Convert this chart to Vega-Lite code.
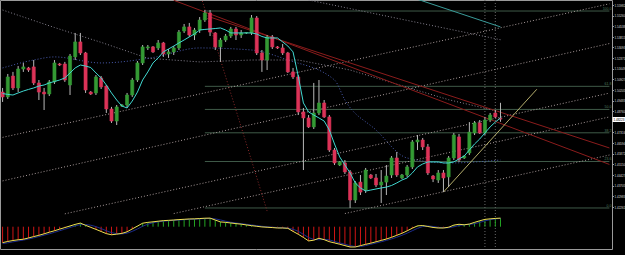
{
"$schema": "https://vega.github.io/schema/vega-lite/v6.json",
"usermeta": {"embedOptions": {"actions": false}},
"autosize": {"type": "none"},
"width": 612,
"height": 249,
"padding": {"left": 0, "top": 0, "right": 13, "bottom": 6},
"background": "#000000",
"config": {"view": {"stroke": "#9a9a9a", "strokeWidth": 1}, "font": "Liberation Sans"},
"datasets": {
"bars": [
{"d":"2010-03-01","o":1.5006,"h":1.5034,"l":1.4939,"c":1.4973,"ma":1.4996,"m":-0.0150,"s":-0.0160},
{"d":"2010-03-02","o":1.4973,"h":1.5129,"l":1.4959,"c":1.5109,"ma":1.4990,"m":-0.0139,"s":-0.0152},
{"d":"2010-03-03","o":1.5115,"h":1.5143,"l":1.5020,"c":1.5034,"ma":1.4986,"m":-0.0130,"s":-0.0143},
{"d":"2010-03-04","o":1.5034,"h":1.5183,"l":1.5006,"c":1.5163,"ma":1.5000,"m":-0.0123,"s":-0.0134},
{"d":"2010-03-05","o":1.5163,"h":1.5204,"l":1.5143,"c":1.5177,"ma":1.5013,"m":-0.0118,"s":-0.0126},
{"d":"2010-03-07","o":1.5170,"h":1.5177,"l":1.5143,"c":1.5156,"ma":1.5024,"m":-0.0106,"s":-0.0116},
{"d":"2010-03-08","o":1.5177,"h":1.5224,"l":1.5054,"c":1.5068,"ma":1.5034,"m":-0.0093,"s":-0.0105},
{"d":"2010-03-09","o":1.5068,"h":1.5088,"l":1.4952,"c":1.5006,"ma":1.5047,"m":-0.0081,"s":-0.0093},
{"d":"2010-03-10","o":1.5006,"h":1.5034,"l":1.4884,"c":1.4993,"ma":1.5054,"m":-0.0067,"s":-0.0080},
{"d":"2010-03-11","o":1.4993,"h":1.5088,"l":1.4979,"c":1.5075,"ma":1.5068,"m":-0.0052,"s":-0.0067},
{"d":"2010-03-12","o":1.5075,"h":1.5224,"l":1.5061,"c":1.5204,"ma":1.5078,"m":-0.0038,"s":-0.0053},
{"d":"2010-03-14","o":1.5197,"h":1.5204,"l":1.5183,"c":1.5190,"ma":1.5088,"m":-0.0023,"s":-0.0038},
{"d":"2010-03-15","o":1.5197,"h":1.5211,"l":1.5075,"c":1.5088,"ma":1.5102,"m":-0.0008,"s":-0.0023},
{"d":"2010-03-16","o":1.5054,"h":1.5265,"l":1.4986,"c":1.5251,"ma":1.5136,"m":0.0007,"s":-0.0008},
{"d":"2010-03-17","o":1.5245,"h":1.5408,"l":1.5224,"c":1.5347,"ma":1.5170,"m":0.0022,"s":0.0007},
{"d":"2010-03-18","o":1.5347,"h":1.5408,"l":1.5258,"c":1.5272,"ma":1.5190,"m":0.0034,"s":0.0020},
{"d":"2010-03-19","o":1.5272,"h":1.5279,"l":1.5000,"c":1.5020,"ma":1.5183,"m":0.0013,"s":0.0021},
{"d":"2010-03-21","o":1.5006,"h":1.5013,"l":1.4986,"c":1.4993,"ma":1.5173,"m":-0.0006,"s":0.0014},
{"d":"2010-03-22","o":1.5000,"h":1.5122,"l":1.4986,"c":1.5109,"ma":1.5136,"m":-0.0025,"s":0.0001},
{"d":"2010-03-23","o":1.5102,"h":1.5115,"l":1.5027,"c":1.5041,"ma":1.5102,"m":-0.0045,"s":-0.0018},
{"d":"2010-03-24","o":1.5047,"h":1.5054,"l":1.4864,"c":1.4891,"ma":1.5054,"m":-0.0065,"s":-0.0038},
{"d":"2010-03-25","o":1.4891,"h":1.4905,"l":1.4796,"c":1.4809,"ma":1.5000,"m":-0.0076,"s":-0.0056},
{"d":"2010-03-26","o":1.4809,"h":1.4918,"l":1.4782,"c":1.4905,"ma":1.4952,"m":-0.0070,"s":-0.0066},
{"d":"2010-03-28","o":1.4911,"h":1.4925,"l":1.4905,"c":1.4918,"ma":1.4911,"m":-0.0063,"s":-0.0068},
{"d":"2010-03-29","o":1.4918,"h":1.5000,"l":1.4898,"c":1.4986,"ma":1.4898,"m":-0.0048,"s":-0.0061},
{"d":"2010-03-30","o":1.4986,"h":1.5102,"l":1.4973,"c":1.5088,"ma":1.4945,"m":-0.0021,"s":-0.0044},
{"d":"2010-03-31","o":1.5088,"h":1.5217,"l":1.5075,"c":1.5204,"ma":1.5006,"m":0.0006,"s":-0.0021},
{"d":"2010-04-01","o":1.5204,"h":1.5326,"l":1.5190,"c":1.5313,"ma":1.5088,"m":0.0033,"s":0.0004},
{"d":"2010-04-02","o":1.5306,"h":1.5326,"l":1.5292,"c":1.5313,"ma":1.5143,"m":0.0041,"s":0.0024},
{"d":"2010-04-04","o":1.5313,"h":1.5319,"l":1.5272,"c":1.5279,"ma":1.5204,"m":0.0046,"s":0.0037},
{"d":"2010-04-05","o":1.5306,"h":1.5360,"l":1.5292,"c":1.5340,"ma":1.5238,"m":0.0052,"s":0.0046},
{"d":"2010-04-06","o":1.5340,"h":1.5347,"l":1.5245,"c":1.5265,"ma":1.5279,"m":0.0057,"s":0.0052},
{"d":"2010-04-07","o":1.5265,"h":1.5299,"l":1.5238,"c":1.5279,"ma":1.5299,"m":0.0060,"s":0.0056},
{"d":"2010-04-08","o":1.5279,"h":1.5319,"l":1.5258,"c":1.5306,"ma":1.5319,"m":0.0063,"s":0.0060},
{"d":"2010-04-09","o":1.5306,"h":1.5428,"l":1.5292,"c":1.5414,"ma":1.5340,"m":0.0067,"s":0.0063},
{"d":"2010-04-11","o":1.5421,"h":1.5469,"l":1.5408,"c":1.5449,"ma":1.5360,"m":0.0070,"s":0.0066},
{"d":"2010-04-12","o":1.5449,"h":1.5476,"l":1.5381,"c":1.5394,"ma":1.5381,"m":0.0073,"s":0.0069},
{"d":"2010-04-13","o":1.5394,"h":1.5442,"l":1.5360,"c":1.5428,"ma":1.5401,"m":0.0074,"s":0.0071},
{"d":"2010-04-14","o":1.5428,"h":1.5516,"l":1.5408,"c":1.5496,"ma":1.5428,"m":0.0077,"s":0.0074},
{"d":"2010-04-15","o":1.5496,"h":1.5564,"l":1.5483,"c":1.5544,"ma":1.5432,"m":0.0080,"s":0.0076},
{"d":"2010-04-16","o":1.5544,"h":1.5564,"l":1.5387,"c":1.5414,"ma":1.5435,"m":0.0081,"s":0.0078},
{"d":"2010-04-18","o":1.5408,"h":1.5414,"l":1.5292,"c":1.5313,"ma":1.5438,"m":0.0063,"s":0.0074},
{"d":"2010-04-19","o":1.5313,"h":1.5374,"l":1.5211,"c":1.5360,"ma":1.5442,"m":0.0045,"s":0.0064},
{"d":"2010-04-20","o":1.5360,"h":1.5401,"l":1.5347,"c":1.5387,"ma":1.5428,"m":0.0041,"s":0.0052},
{"d":"2010-04-21","o":1.5387,"h":1.5449,"l":1.5374,"c":1.5435,"ma":1.5408,"m":0.0035,"s":0.0042},
{"d":"2010-04-22","o":1.5435,"h":1.5449,"l":1.5360,"c":1.5394,"ma":1.5408,"m":0.0029,"s":0.0035},
{"d":"2010-04-23","o":1.5394,"h":1.5428,"l":1.5374,"c":1.5408,"ma":1.5408,"m":0.0024,"s":0.0029},
{"d":"2010-04-25","o":1.5408,"h":1.5414,"l":1.5401,"c":1.5411,"ma":1.5408,"m":0.0017,"s":0.0023},
{"d":"2010-04-26","o":1.5408,"h":1.5530,"l":1.5394,"c":1.5510,"ma":1.5408,"m":0.0010,"s":0.0017},
{"d":"2010-04-27","o":1.5510,"h":1.5523,"l":1.5258,"c":1.5272,"ma":1.5401,"m":0.0004,"s":0.0010},
{"d":"2010-04-28","o":1.5272,"h":1.5292,"l":1.5143,"c":1.5224,"ma":1.5384,"m":-0.0002,"s":0.0004},
{"d":"2010-04-29","o":1.5224,"h":1.5394,"l":1.5156,"c":1.5381,"ma":1.5374,"m":-0.0005,"s":-0.0001},
{"d":"2010-04-30","o":1.5381,"h":1.5394,"l":1.5299,"c":1.5313,"ma":1.5374,"m":-0.0008,"s":-0.0005},
{"d":"2010-05-02","o":1.5313,"h":1.5319,"l":1.5299,"c":1.5306,"ma":1.5374,"m":-0.0012,"s":-0.0008},
{"d":"2010-05-03","o":1.5306,"h":1.5333,"l":1.5258,"c":1.5272,"ma":1.5347,"m":-0.0012,"s":-0.0011},
{"d":"2010-05-04","o":1.5272,"h":1.5279,"l":1.5136,"c":1.5143,"ma":1.5319,"m":-0.0015,"s":-0.0013},
{"d":"2010-05-05","o":1.5143,"h":1.5170,"l":1.5095,"c":1.5109,"ma":1.5279,"m":-0.0044,"s":-0.0024},
{"d":"2010-05-06","o":1.5109,"h":1.5122,"l":1.4850,"c":1.4871,"ma":1.5115,"m":-0.0071,"s":-0.0043},
{"d":"2010-05-07","o":1.4871,"h":1.4898,"l":1.4476,"c":1.4830,"ma":1.4932,"m":-0.0101,"s":-0.0072},
{"d":"2010-05-09","o":1.4830,"h":1.4850,"l":1.4762,"c":1.4769,"ma":1.4871,"m":-0.0134,"s":-0.0102},
{"d":"2010-05-10","o":1.4769,"h":1.5068,"l":1.4755,"c":1.4864,"ma":1.4850,"m":-0.0127,"s":-0.0120},
{"d":"2010-05-11","o":1.4864,"h":1.5088,"l":1.4850,"c":1.4932,"ma":1.4830,"m":-0.0109,"s":-0.0123},
{"d":"2010-05-12","o":1.4932,"h":1.4952,"l":1.4830,"c":1.4837,"ma":1.4809,"m":-0.0122,"s":-0.0119},
{"d":"2010-05-13","o":1.4837,"h":1.4850,"l":1.4599,"c":1.4612,"ma":1.4748,"m":-0.0141,"s":-0.0124},
{"d":"2010-05-14","o":1.4612,"h":1.4626,"l":1.4510,"c":1.4524,"ma":1.4653,"m":-0.0153,"s":-0.0139},
{"d":"2010-05-16","o":1.4510,"h":1.4537,"l":1.4503,"c":1.4531,"ma":1.4565,"m":-0.0165,"s":-0.0153},
{"d":"2010-05-17","o":1.4524,"h":1.4544,"l":1.4449,"c":1.4463,"ma":1.4510,"m":-0.0178,"s":-0.0165},
{"d":"2010-05-18","o":1.4463,"h":1.4476,"l":1.4218,"c":1.4272,"ma":1.4456,"m":-0.0191,"s":-0.0178},
{"d":"2010-05-19","o":1.4272,"h":1.4401,"l":1.4252,"c":1.4388,"ma":1.4388,"m":-0.0191,"s":-0.0187},
{"d":"2010-05-20","o":1.4394,"h":1.4442,"l":1.4306,"c":1.4326,"ma":1.4354,"m":-0.0178,"s":-0.0187},
{"d":"2010-05-21","o":1.4340,"h":1.4490,"l":1.4320,"c":1.4476,"ma":1.4333,"m":-0.0166,"s":-0.0178},
{"d":"2010-05-23","o":1.4442,"h":1.4449,"l":1.4415,"c":1.4422,"ma":1.4340,"m":-0.0155,"s":-0.0166},
{"d":"2010-05-24","o":1.4422,"h":1.4449,"l":1.4360,"c":1.4374,"ma":1.4347,"m":-0.0142,"s":-0.0154},
{"d":"2010-05-25","o":1.4374,"h":1.4476,"l":1.4252,"c":1.4394,"ma":1.4354,"m":-0.0129,"s":-0.0142},
{"d":"2010-05-26","o":1.4394,"h":1.4510,"l":1.4306,"c":1.4435,"ma":1.4360,"m":-0.0116,"s":-0.0129},
{"d":"2010-05-27","o":1.4442,"h":1.4571,"l":1.4422,"c":1.4558,"ma":1.4371,"m":-0.0100,"s":-0.0115},
{"d":"2010-05-28","o":1.4558,"h":1.4599,"l":1.4429,"c":1.4442,"ma":1.4388,"m":-0.0081,"s":-0.0099},
{"d":"2010-05-30","o":1.4422,"h":1.4449,"l":1.4415,"c":1.4442,"ma":1.4408,"m":-0.0062,"s":-0.0081},
{"d":"2010-05-31","o":1.4442,"h":1.4510,"l":1.4429,"c":1.4497,"ma":1.4422,"m":-0.0039,"s":-0.0061},
{"d":"2010-06-01","o":1.4497,"h":1.4680,"l":1.4483,"c":1.4667,"ma":1.4456,"m":-0.0014,"s":-0.0038},
{"d":"2010-06-02","o":1.4667,"h":1.4714,"l":1.4612,"c":1.4680,"ma":1.4497,"m":0.0008,"s":-0.0015},
{"d":"2010-06-03","o":1.4680,"h":1.4694,"l":1.4612,"c":1.4633,"ma":1.4517,"m":0.0011,"s":0.0001},
{"d":"2010-06-04","o":1.4633,"h":1.4653,"l":1.4442,"c":1.4456,"ma":1.4531,"m":0.0002,"s":0.0007},
{"d":"2010-06-06","o":1.4435,"h":1.4442,"l":1.4394,"c":1.4415,"ma":1.4531,"m":-0.0007,"s":0.0002},
{"d":"2010-06-07","o":1.4408,"h":1.4476,"l":1.4388,"c":1.4456,"ma":1.4531,"m":-0.0012,"s":-0.0006},
{"d":"2010-06-08","o":1.4456,"h":1.4476,"l":1.4326,"c":1.4422,"ma":1.4524,"m":-0.0012,"s":-0.0010},
{"d":"2010-06-09","o":1.4429,"h":1.4571,"l":1.4360,"c":1.4558,"ma":1.4524,"m":-0.0005,"s":-0.0010},
{"d":"2010-06-10","o":1.4558,"h":1.4728,"l":1.4544,"c":1.4714,"ma":1.4531,"m":0.0015,"s":-0.0001},
{"d":"2010-06-11","o":1.4701,"h":1.4721,"l":1.4531,"c":1.4544,"ma":1.4551,"m":0.0023,"s":0.0011},
{"d":"2010-06-13","o":1.4558,"h":1.4578,"l":1.4551,"c":1.4571,"ma":1.4571,"m":0.0018,"s":0.0019},
{"d":"2010-06-14","o":1.4592,"h":1.4802,"l":1.4578,"c":1.4734,"ma":1.4612,"m":0.0025,"s":0.0022},
{"d":"2010-06-15","o":1.4728,"h":1.4809,"l":1.4714,"c":1.4796,"ma":1.4653,"m":0.0041,"s":0.0028},
{"d":"2010-06-16","o":1.4796,"h":1.4816,"l":1.4721,"c":1.4728,"ma":1.4687,"m":0.0056,"s":0.0041},
{"d":"2010-06-17","o":1.4728,"h":1.4837,"l":1.4714,"c":1.4816,"ma":1.4728,"m":0.0069,"s":0.0055},
{"d":"2010-06-18","o":1.4816,"h":1.4864,"l":1.4802,"c":1.4850,"ma":1.4769,"m":0.0074,"s":0.0066},
{"d":"2010-06-20","o":1.4864,"h":1.4884,"l":1.4830,"c":1.4837,"ma":1.4802,"m":0.0078,"s":0.0074},
{"d":"2010-06-21","o":1.4827,"h":1.4933,"l":1.4804,"c":1.48223,"ma":1.4830,"m":0.0081,"s":0.0078}
],
"fib": [
{"lv":1.5557,"t":"100.0"},{"lv":1.5045,"t":"61.8"},{"lv":1.4888,"t":"50.0"},{"lv":1.4729,"t":"38.2"},{"lv":1.4534,"t":"23.6"},{"lv":1.4218,"t":"0.0"}
],
"lines": [
{"g":"A","d":"2010-03-01","p":1.4698},{"g":"A","d":"2010-07-15","p":1.5606},
{"g":"B","d":"2010-03-01","p":1.4402},{"g":"B","d":"2010-07-15","p":1.5336},
{"g":"C","d":"2010-03-15","p":1.4178},{"g":"C","d":"2010-07-15","p":1.4999},
{"g":"D","d":"2010-04-08","p":1.4180},{"g":"D","d":"2010-07-15","p":1.4837},
{"g":"E","d":"2010-05-17","p":1.4180},{"g":"E","d":"2010-07-15","p":1.4578},
{"g":"G","d":"2010-05-09","p":1.5632},{"g":"G","d":"2010-06-21","p":1.5362},
{"g":"R1","d":"2010-04-08","p":1.5630},{"g":"R1","d":"2010-07-15","p":1.4514},
{"g":"R2","d":"2010-04-16","p":1.5516},{"g":"R2","d":"2010-07-15","p":1.4626},
{"g":"R3","d":"2010-04-14","p":1.5684},{"g":"R3","d":"2010-04-29","p":1.4197},
{"g":"T","d":"2010-06-02","p":1.5637},{"g":"T","d":"2010-06-21","p":1.5449},
{"g":"K","d":"2010-06-08","p":1.4326},{"g":"K","d":"2010-06-29","p":1.5025},
{"g":"MG","d":"2010-03-01","p":1.5564},{"g":"MG","d":"2010-03-12","p":1.5445},{"g":"MG","d":"2010-03-23","p":1.5344},{"g":"MG","d":"2010-04-02","p":1.5236},{"g":"MG","d":"2010-04-14","p":1.5211},{"g":"MG","d":"2010-04-26","p":1.5224},{"g":"MG","d":"2010-05-06","p":1.5224},{"g":"MG","d":"2010-05-18","p":1.5156},{"g":"MG","d":"2010-05-30","p":1.5049},{"g":"MG","d":"2010-06-09","p":1.4954},{"g":"MG","d":"2010-06-21","p":1.4871},
{"g":"MB","d":"2010-03-01","p":1.5170},{"g":"MB","d":"2010-03-08","p":1.5224},{"g":"MB","d":"2010-03-12","p":1.5245},{"g":"MB","d":"2010-03-23","p":1.5204},{"g":"MB","d":"2010-04-04","p":1.5241},{"g":"MB","d":"2010-04-14","p":1.5306},{"g":"MB","d":"2010-04-26","p":1.5292},{"g":"MB","d":"2010-05-04","p":1.5224},{"g":"MB","d":"2010-05-14","p":1.5088},{"g":"MB","d":"2010-05-17","p":1.4952},{"g":"MB","d":"2010-05-24","p":1.4748},{"g":"MB","d":"2010-05-31","p":1.4558},{"g":"MB","d":"2010-06-09","p":1.4524},{"g":"MB","d":"2010-06-21","p":1.4544}
],
"vl": [{"d":"2010-06-17"},{"d":"2010-06-20"}]
},
"layer": [
{
"resolve": {"axis": {"y": "independent"}},
"layer": [
{"data": {"name": "fib"}, "mark": {"type": "rule", "color": "#3f5a48", "strokeWidth": 1},
 "encoding": {
  "x": {"datum": "2010-04-15", "type": "ordinal", "axis": null},
  "x2": {"datum": "2010-07-15"},
  "y": {"field": "lv", "type": "quantitative", "scale": {"domain": [1.4177, 1.5632], "range": [214, 0], "zero": false, "nice": false}, "axis": null}}},
{"data": {"name": "fib"}, "mark": {"type": "text", "color": "#4f7f5c", "fontSize": 3.5, "align": "right", "baseline": "bottom", "dx": 2, "dy": -0.3},
 "encoding": {
  "x": {"datum": "2010-07-15", "type": "ordinal", "axis": null},
  "y": {"field": "lv", "type": "quantitative", "scale": {"domain": [1.4177, 1.5632], "range": [214, 0], "zero": false, "nice": false}, "axis": null},
  "text": {"field": "t"}}},
{"mark": {"type": "rule", "color": "#9a9a9a", "strokeWidth": 1},
 "encoding": {"y": {"datum": 1.4177, "type": "quantitative", "scale": {"domain": [1.4177, 1.5632], "range": [214, 0], "zero": false, "nice": false}, "axis": null}}},
{"mark": {"type": "rule", "color": "#8f8a52", "strokeWidth": 1},
 "encoding": {"y": {"datum": 1.48223, "type": "quantitative", "scale": {"domain": [1.4177, 1.5632], "range": [214, 0], "zero": false, "nice": false}, "axis": null}}},
{"data": {"name": "vl"}, "mark": {"type": "rule", "color": "#6a6a6a", "strokeWidth": 1, "strokeDash": [1, 2]},
 "encoding": {"x": {"field": "d", "type": "ordinal", "axis": null}}},
{"data": {"name": "lines"}, "transform": [{"filter": "indexof(['A','B','C','D','E'], datum.g) >= 0"}],
 "mark": {"type": "line", "strokeWidth": 1, "strokeDash": [1, 2], "color": "#a89a9a"},
 "encoding": {
  "x": {"field": "d", "type": "ordinal", "axis": null},
  "y": {"field": "p", "type": "quantitative", "scale": {"domain": [1.4177, 1.5632], "range": [214, 0], "zero": false, "nice": false}, "axis": null},
  "detail": {"field": "g"}}},
{"data": {"name": "lines"}, "transform": [{"filter": "datum.g == 'G' || datum.g == 'MG'"}],
 "mark": {"type": "line", "strokeWidth": 1, "strokeDash": [1, 2], "color": "#85808e"},
 "encoding": {
  "x": {"field": "d", "type": "ordinal", "axis": null},
  "y": {"field": "p", "type": "quantitative", "scale": {"domain": [1.4177, 1.5632], "range": [214, 0], "zero": false, "nice": false}, "axis": null},
  "detail": {"field": "g"}}},
{"data": {"name": "lines"}, "transform": [{"filter": "datum.g == 'MB'"}],
 "mark": {"type": "line", "strokeWidth": 1, "strokeDash": [1, 2], "color": "#4a5cb0", "interpolate": "monotone"},
 "encoding": {
  "x": {"field": "d", "type": "ordinal", "axis": null},
  "y": {"field": "p", "type": "quantitative", "scale": {"domain": [1.4177, 1.5632], "range": [214, 0], "zero": false, "nice": false}, "axis": null}}},
{"data": {"name": "lines"}, "transform": [{"filter": "datum.g == 'R1' || datum.g == 'R2'"}],
 "mark": {"type": "line", "strokeWidth": 1, "color": "#8b1c1c"},
 "encoding": {
  "x": {"field": "d", "type": "ordinal", "axis": null},
  "y": {"field": "p", "type": "quantitative", "scale": {"domain": [1.4177, 1.5632], "range": [214, 0], "zero": false, "nice": false}, "axis": null},
  "detail": {"field": "g"}}},
{"data": {"name": "lines"}, "transform": [{"filter": "datum.g == 'R3'"}],
 "mark": {"type": "line", "strokeWidth": 1, "strokeDash": [1, 2], "color": "#8b2a2a"},
 "encoding": {
  "x": {"field": "d", "type": "ordinal", "axis": null},
  "y": {"field": "p", "type": "quantitative", "scale": {"domain": [1.4177, 1.5632], "range": [214, 0], "zero": false, "nice": false}, "axis": null}}},
{"data": {"name": "lines"}, "transform": [{"filter": "datum.g == 'T'"}],
 "mark": {"type": "line", "strokeWidth": 1, "color": "#3a9c9a"},
 "encoding": {
  "x": {"field": "d", "type": "ordinal", "axis": null},
  "y": {"field": "p", "type": "quantitative", "scale": {"domain": [1.4177, 1.5632], "range": [214, 0], "zero": false, "nice": false}, "axis": null}}},
{"data": {"name": "lines"}, "transform": [{"filter": "datum.g == 'K'"}],
 "mark": {"type": "line", "strokeWidth": 1, "color": "#b4ad6c"},
 "encoding": {
  "x": {"field": "d", "type": "ordinal", "axis": null},
  "y": {"field": "p", "type": "quantitative", "scale": {"domain": [1.4177, 1.5632], "range": [214, 0], "zero": false, "nice": false}, "axis": null}}},
{"data": {"name": "bars"}, "mark": {"type": "rule", "color": "#b8b8b8", "strokeWidth": 1},
 "encoding": {
  "x": {"field": "d", "type": "ordinal", "scale": {"domain": ["2010-03-01","2010-03-02","2010-03-03","2010-03-04","2010-03-05","2010-03-07","2010-03-08","2010-03-09","2010-03-10","2010-03-11","2010-03-12","2010-03-14","2010-03-15","2010-03-16","2010-03-17","2010-03-18","2010-03-19","2010-03-21","2010-03-22","2010-03-23","2010-03-24","2010-03-25","2010-03-26","2010-03-28","2010-03-29","2010-03-30","2010-03-31","2010-04-01","2010-04-02","2010-04-04","2010-04-05","2010-04-06","2010-04-07","2010-04-08","2010-04-09","2010-04-11","2010-04-12","2010-04-13","2010-04-14","2010-04-15","2010-04-16","2010-04-18","2010-04-19","2010-04-20","2010-04-21","2010-04-22","2010-04-23","2010-04-25","2010-04-26","2010-04-27","2010-04-28","2010-04-29","2010-04-30","2010-05-02","2010-05-03","2010-05-04","2010-05-05","2010-05-06","2010-05-07","2010-05-09","2010-05-10","2010-05-11","2010-05-12","2010-05-13","2010-05-14","2010-05-16","2010-05-17","2010-05-18","2010-05-19","2010-05-20","2010-05-21","2010-05-23","2010-05-24","2010-05-25","2010-05-26","2010-05-27","2010-05-28","2010-05-30","2010-05-31","2010-06-01","2010-06-02","2010-06-03","2010-06-04","2010-06-06","2010-06-07","2010-06-08","2010-06-09","2010-06-10","2010-06-11","2010-06-13","2010-06-14","2010-06-15","2010-06-16","2010-06-17","2010-06-18","2010-06-20","2010-06-21","2010-06-22","2010-06-23","2010-06-24","2010-06-25","2010-06-27","2010-06-28","2010-06-29","2010-06-30","2010-07-01","2010-07-02","2010-07-04","2010-07-05","2010-07-06","2010-07-07","2010-07-08","2010-07-09","2010-07-11","2010-07-12","2010-07-13","2010-07-14","2010-07-15"], "paddingInner": 0.4, "paddingOuter": 0.2},
   "axis": {"orient": "bottom", "title": null, "values": ["2010-03-01","2010-03-05","2010-03-10","2010-03-15","2010-03-19","2010-03-24","2010-03-29","2010-04-02","2010-04-07","2010-04-12","2010-04-16","2010-04-21","2010-04-26","2010-04-30","2010-05-05","2010-05-10","2010-05-14","2010-05-19","2010-05-24","2010-05-28","2010-06-02","2010-06-07","2010-06-11","2010-06-16","2010-06-21"], "labelExpr": "utcFormat(toDate(datum.value), '%-d %b %Y')", "labelAlign": "left", "labelBaseline": "top", "labelFontSize": 3.2, "labelColor": "#d8d8d8", "labelPadding": 0.5, "labelOverlap": false, "labelAngle": 0, "tickSize": 1.5, "tickColor": "#9a9a9a", "domain": false, "grid": false}},
  "y": {"field": "l", "type": "quantitative", "scale": {"domain": [1.4177, 1.5632], "range": [214, 0], "zero": false, "nice": false},
   "axis": {"orient": "right", "title": null, "values": [1.55982,1.5526,1.54538,1.53815,1.53093,1.52371,1.51649,1.50927,1.50205,1.49483,1.4876,1.47316,1.46594,1.45872,1.4515,1.44427,1.43705,1.42983,1.42261], "format": ".5f", "labelFontSize": 3, "labelColor": "#d8d8d8", "labelPadding": 0.5, "tickSize": 1.5, "tickColor": "#9a9a9a", "domain": false, "grid": false, "labelOverlap": false}},
  "y2": {"field": "h"}}},
{"data": {"name": "bars"}, "mark": {"type": "bar", "strokeWidth": 0.6},
 "encoding": {
  "x": {"field": "d", "type": "ordinal", "axis": null},
  "y": {"field": "o", "type": "quantitative", "scale": {"domain": [1.4177, 1.5632], "range": [214, 0], "zero": false, "nice": false}, "axis": null},
  "y2": {"field": "c"},
  "color": {"condition": {"test": "datum.c >= datum.o", "value": "#349a34"}, "value": "#dc3358"},
  "stroke": {"condition": {"test": "datum.c >= datum.o", "value": "#349a34"}, "value": "#dc3358"}}},
{"data": {"name": "bars"}, "mark": {"type": "line", "color": "#40d8d0", "strokeWidth": 1},
 "encoding": {
  "x": {"field": "d", "type": "ordinal", "axis": null},
  "y": {"field": "ma", "type": "quantitative", "scale": {"domain": [1.4177, 1.5632], "range": [214, 0], "zero": false, "nice": false}, "axis": null}}},
{"mark": {"type": "text", "color": "#e0e0e0", "fontSize": 3.2, "align": "left", "baseline": "middle", "dx": 0},
 "encoding": {
  "x": {"datum": "2010-03-01", "type": "ordinal", "axis": null},
  "y": {"datum": 1.5605, "type": "quantitative", "scale": {"domain": [1.4177, 1.5632], "range": [214, 0], "zero": false, "nice": false}, "axis": null},
  "text": {"value": "GBPUSD,Daily  1.48270 1.49330 1.48040 1.48223"}}},
{"mark": {"type": "text", "color": "#4a8fd8", "fontSize": 6.5, "align": "left", "baseline": "bottom", "dy": 0},
 "encoding": {
  "x": {"datum": "2010-06-24", "type": "ordinal", "axis": null},
  "y": {"datum": 1.4823, "type": "quantitative", "scale": {"domain": [1.4177, 1.5632], "range": [214, 0], "zero": false, "nice": false}, "axis": null},
  "text": {"value": "1.4823"}}},
{"mark": {"type": "text", "color": "#c8843c", "fontSize": 4, "align": "left", "baseline": "middle", "dx": 1},
 "encoding": {
  "x": {"datum": "2010-06-24", "type": "ordinal", "axis": null},
  "y": {"datum": 1.4789, "type": "quantitative", "scale": {"domain": [1.4177, 1.5632], "range": [214, 0], "zero": false, "nice": false}, "axis": null},
  "text": {"value": "00:31:24"}}},
{"mark": {"type": "rule", "opacity": 0},
 "encoding": {
  "y": {"datum": 1.48223, "type": "quantitative", "scale": {"domain": [1.4177, 1.5632], "range": [214, 0], "zero": false, "nice": false},
   "axis": {"orient": "right", "title": null, "values": [1.48223], "format": ".5f", "labelFontSize": 3, "labelColor": "#000000", "labelPadding": -12, "tickSize": 13, "tickWidth": 5, "tickColor": "#ffffff", "domain": false, "grid": false}}}}
]
},
{
"layer": [
{"mark": {"type": "rule", "color": "#9a9a9a", "strokeWidth": 1},
 "encoding": {"y": {"datum": 0.00915, "type": "quantitative", "scale": {"domain": [-0.021, 0.00915], "range": [249, 217], "zero": false, "nice": false}, "axis": null}}},
{"mark": {"type": "rule", "color": "#9a9a9a", "strokeWidth": 1, "strokeDash": [1, 2]},
 "encoding": {"y": {"datum": 0, "type": "quantitative", "scale": {"domain": [-0.021, 0.00915], "range": [249, 217], "zero": false, "nice": false}, "axis": null}}},
{"data": {"name": "bars"}, "mark": {"type": "rule", "strokeWidth": 1},
 "encoding": {
  "x": {"field": "d", "type": "ordinal", "axis": null},
  "y": {"field": "m", "type": "quantitative", "scale": {"domain": [-0.021, 0.00915], "range": [249, 217], "zero": false, "nice": false},
   "axis": {"orient": "right", "title": null, "values": [0.0082, 0, -0.0196], "labelExpr": "datum.value == 0 ? '0.00' : format(datum.value, '.4f')", "labelFontSize": 3, "labelColor": "#d8d8d8", "labelPadding": 0.5, "tickSize": 1.5, "tickColor": "#9a9a9a", "domain": false, "grid": false}},
  "y2": {"datum": 0},
  "color": {"condition": {"test": "datum.m >= 0", "value": "#23a323"}, "value": "#d01515"}}},
{"data": {"name": "bars"}, "mark": {"type": "line", "color": "#1c2c8c", "strokeWidth": 1},
 "encoding": {
  "x": {"field": "d", "type": "ordinal", "axis": null},
  "y": {"field": "s", "type": "quantitative", "scale": {"domain": [-0.021, 0.00915], "range": [249, 217], "zero": false, "nice": false}, "axis": null}}},
{"data": {"name": "bars"}, "mark": {"type": "line", "color": "#f0e050", "strokeWidth": 1},
 "encoding": {
  "x": {"field": "d", "type": "ordinal", "axis": null},
  "y": {"field": "m", "type": "quantitative", "scale": {"domain": [-0.021, 0.00915], "range": [249, 217], "zero": false, "nice": false}, "axis": null}}},
{"mark": {"type": "text", "color": "#e0e0e0", "fontSize": 3.2, "align": "left", "baseline": "middle"},
 "encoding": {
  "x": {"datum": "2010-03-01", "type": "ordinal", "axis": null},
  "y": {"datum": 0.0070, "type": "quantitative", "scale": {"domain": [-0.021, 0.00915], "range": [249, 217], "zero": false, "nice": false}, "axis": null},
  "text": {"value": "MACD(5,13,1) 0.0075 0.0073 0.0067"}}},
{"mark": {"type": "text", "color": "#e0e0e0", "fontSize": 3.2, "align": "left", "baseline": "middle"},
 "encoding": {
  "x": {"datum": "2010-03-01", "type": "ordinal", "axis": null},
  "y": {"datum": -0.0182, "type": "quantitative", "scale": {"domain": [-0.021, 0.00915], "range": [249, 217], "zero": false, "nice": false}, "axis": null},
  "text": {"value": "© MetaTrader, © 2001-2009 MetaQuotes Software Corp."}}}
]
}
],
"resolve": {"scale": {"y": "independent"}, "axis": {"y": "independent"}}
}
